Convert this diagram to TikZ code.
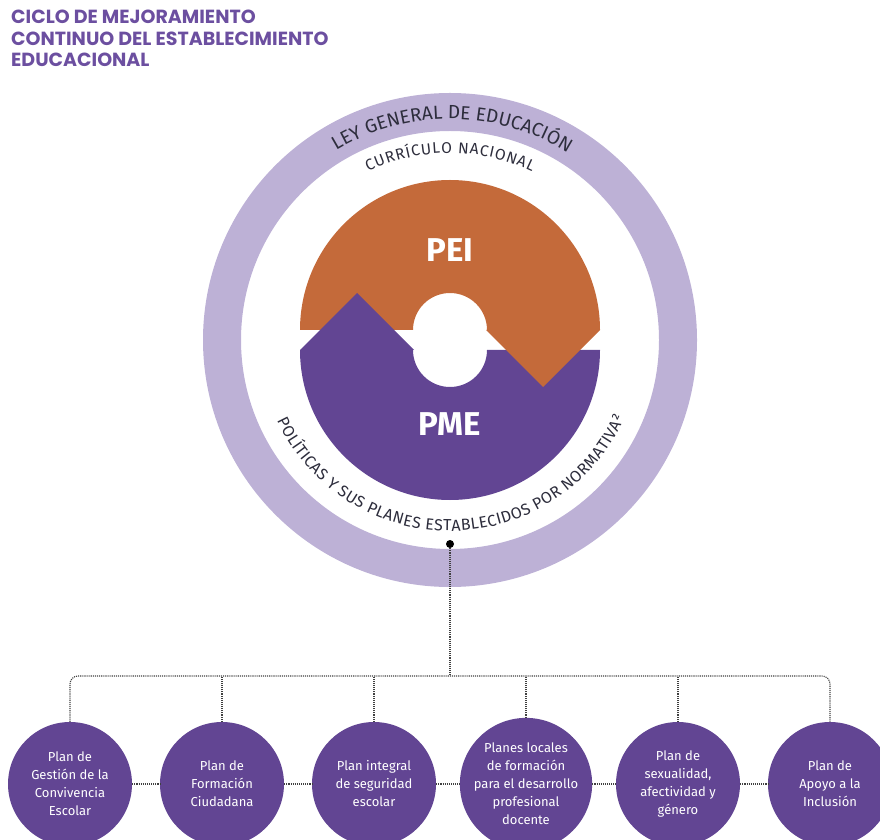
\documentclass[tikz,border=0pt]{standalone}
\usepackage{fontspec}
\setmainfont{Fira Sans}
\newfontfamily\titlefont{Poppins}
\usetikzlibrary{decorations.text}
\definecolor{peicolor}{RGB}{196,106,58}
\definecolor{pmecolor}{RGB}{98,69,147}
\definecolor{ringcolor}{RGB}{189,177,214}
\definecolor{titlecolor}{RGB}{108,79,160}
\definecolor{arccolor}{RGB}{45,45,60}
\begin{document}
\begin{tikzpicture}[x=1pt,y=1pt,
	plan/.style={circle, fill=pmecolor, minimum size=124pt, inner sep=0pt, align=center, text=white, font=\fontsize{13}{18}\selectfont},
	link/.style={densely dotted, line width=1.1pt, draw=black!75}]
	\useasboundingbox (0,0) rectangle (880,839);
	%% title
	\node[anchor=north west, align=left, inner sep=0pt, text=titlecolor, font=\titlefont\bfseries\fontsize{19}{21.5}\selectfont] (title) at (11,829) {CICLO DE MEJORAMIENTO\\CONTINUO DEL ESTABLECIMIENTO\\EDUCACIONAL};
	%% outer ring
	\fill[ringcolor, even odd rule] (450,499) circle (247) (450,499) circle (209);
	%% the two halves
	\fill[peicolor] (300,509) arc (180:0:150) -- (487,509) arc (0:180:37) -- cycle;
	\fill[pmecolor] (600,489) arc (0:-180:150) -- (413,489) arc (180:360:37) -- cycle;
	\fill[pmecolor] (300,489) -- (357,546) -- (414,489) -- cycle;
	\fill[peicolor] (600,509) -- (543,452) -- (486,509) -- cycle;
	\node[text=white, font=\bfseries\fontsize{33}{33}\selectfont] (pei) at (450,589) {PEI};
	\node[text=white, font=\bfseries\fontsize{33}{33}\selectfont] (pme) at (450,415) {PME};
	%% texts along the circle
	\path[decorate, decoration={text along path, text align=fit to path, text color=arccolor,
		text={|\fontsize{19}{19}\selectfont|LEY GENERAL DE EDUCACIÓN}}] (450,499) ++(121:221) arc (121:59:221);
	\path[decorate, decoration={text along path, text align=fit to path, text color=arccolor,
		text={|\fontsize{15.5}{15.5}\selectfont|CURRÍCULO NACIONAL}}] (450,499) ++(116:187) arc (116:64:187);
	\path[decorate, decoration={text along path, text align=fit to path, text color=arccolor,
		text={|\fontsize{16}{16}\selectfont|POLÍTICAS Y SUS PLANES ESTABLECIDOS POR NORMATIVA²}}] (450,499) ++(205:191) arc (205:336:191);
	%% plans
	\node[circle, fill=black, inner sep=0pt, minimum size=8pt] (dot) at (450,295) {};
	\coordinate (hub) at (450,163);
	\node[plan] (plan1) at (70,55) {Plan de\\Gestión de la\\Convivencia\\Escolar};
	\node[plan] (plan2) at (222,55) {Plan de\\Formación\\Ciudadana};
	\node[plan] (plan3) at (374,55) {Plan integral\\de seguridad\\escolar};
	\node[plan] (plan4) at (526,55) {Planes locales\\de formación\\para el desarrollo\\profesional\\docente};
	\node[plan] (plan5) at (678,55) {Plan de\\sexualidad,\\afectividad y\\género};
	\node[plan] (plan6) at (830,55) {Plan de\\Apoyo a la\\Inclusión};
	\draw[link] (dot) -- (hub);
	\draw[link, rounded corners=8pt] (plan1.north) |- (hub) -| (plan6.north);
	\foreach \n in {2,...,5}
		\draw[link] (plan\n.north) -- (plan\n.north |- hub);
	\foreach \a/\b in {1/2,2/3,3/4,4/5,5/6}
		\draw[link] (plan\a) -- (plan\b);
\end{tikzpicture}
\end{document}
